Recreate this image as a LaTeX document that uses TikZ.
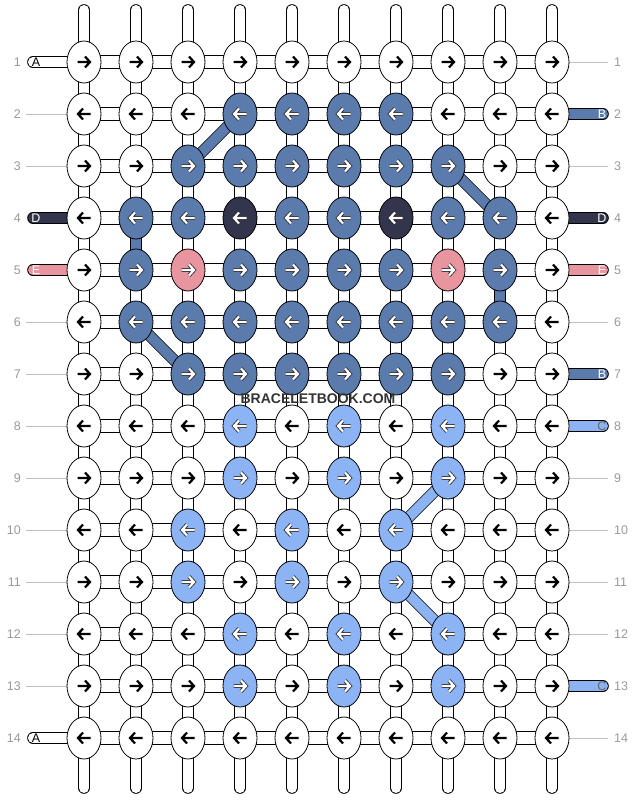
\documentclass[tikz,border=0pt]{standalone}
\usepackage{fontspec}
\setmainfont{Liberation Sans}
\usetikzlibrary{shapes.geometric}
% Farben der Knoten
\definecolor{kw}{RGB}{255,255,255}
\definecolor{kb}{RGB}{91,123,173}
\definecolor{kd}{RGB}{51,53,77}
\definecolor{kp}{RGB}{232,149,159}
\definecolor{kl}{RGB}{140,180,245}
% Pfeilfarben und Umrandung
\colorlet{akw}{black}\colorlet{akb}{white}\colorlet{akd}{white}\colorlet{akp}{white}\colorlet{akl}{white}
\colorlet{okw}{white}\colorlet{okb}{black!85}\colorlet{okd}{black!85}\colorlet{okp}{black!85}\colorlet{okl}{black!85}
\begin{document}
\begin{tikzpicture}[x=1pt,y=-1pt,
  knoten/.style={ellipse,draw=black,line width=0.8pt,minimum width=34pt,minimum height=42pt,inner sep=0pt},
  faden/.style={draw=black,line width=0.8pt,double=white,double distance=10pt},
  quer/.style={draw=black,line width=0.8pt,double=white,double distance=12pt},
  mitte/.style={draw=black!25,line width=0.5pt,double=white,double distance=1.6pt},
  ende/.style={draw=black,line width=0.8pt,line cap=round,double distance=10pt},
  zahl/.style={text=black!40,font=\fontsize{12.5}{14}\selectfont,inner sep=0pt},
  buchst/.style={font=\fontsize{12.5}{14}\selectfont,inner sep=0pt}]
  \useasboundingbox (0,0) rectangle (636,800);
  % Punkte
  \foreach \r in {1,...,14}
   \foreach \c in {1,...,10}
    \coordinate (p-\r-\c) at (32+52*\c,10+52*\r);
  \foreach \c in {1,...,10} {
   \coordinate (t-\c) at (32+52*\c,10);
   \coordinate (b-\c) at (32+52*\c,788);
  }
  % Senkrechte Faeden
  \foreach \c in {1,...,10} {
   \draw[faden,line cap=round] (t-\c) -- (b-\c);
   \draw[mitte] (t-\c) -- (b-\c);
  }
  % Waagrechte Faeden
  \foreach \r in {1,...,14}
   \draw[quer] (p-\r-1) -- (p-\r-10);
  % Beschriftung links und rechts
  \foreach \r [evaluate=\r as \y using 10+52*\r] in {1,...,14} {
   \node[zahl,anchor=east] (nl-\r) at (21,\y) {\r};
   \node[zahl,anchor=west] (nr-\r) at (614,\y) {\r};
   \coordinate (lg-\r) at (26,\y);
   \coordinate (rg-\r) at (608,\y);
   \coordinate (le-\r) at (33,\y);
   \coordinate (re-\r) at (603,\y);
  }
  \foreach \r in {2,3,6,7,8,9,10,11,12,13}
   \draw[black!25] (lg-\r) -- (p-\r-1);
  \foreach \r in {1,3,6,9,10,11,12,14}
   \draw[black!25] (p-\r-10) -- (rg-\r);
  % Enden links
  \foreach \r/\f/\t/\tf in {1/kw/A/black,4/kd/D/white,5/kp/E/white,14/kw/A/black} {
   \draw[ende,double=\f] (le-\r) -- (p-\r-1);
   \node[buchst,text=\tf] (bl-\r) at ([xshift=3pt]le-\r) {\t};
  }
  % Enden rechts
  \foreach \r/\f/\t/\tf in {2/kb/B/white,4/kd/D/white,5/kp/E/white,7/kb/B/white,8/kl/C/black!60,13/kl/C/black!60} {
   \draw[ende,double=\f] (p-\r-10) -- (re-\r);
   \node[buchst,text=\tf] (br-\r) at ([xshift=-1pt]re-\r) {\t};
  }
  % Farbige Faeden
  \foreach \a/\b/\f in {2-4/3-3/kb,3-8/4-9/kb,6-2/7-3/kb,4-2/5-2/kb,5-9/6-9/kb,9-8/10-7/kl,11-7/12-8/kl}
   \draw[faden,double=\f] (p-\a) -- (p-\b);
  % Knoten (Reihe/Richtung/Farben)
  \foreach \r/\s/\reihe in {
    1/1/{w,w,w,w,w,w,w,w,w,w},
    2/-1/{w,w,w,b,b,b,b,w,w,w},
    3/1/{w,w,b,b,b,b,b,b,w,w},
    4/-1/{w,b,b,d,b,b,d,b,b,w},
    5/1/{w,b,p,b,b,b,b,p,b,w},
    6/-1/{w,b,b,b,b,b,b,b,b,w},
    7/1/{w,w,b,b,b,b,b,b,w,w},
    8/-1/{w,w,w,l,w,l,w,l,w,w},
    9/1/{w,w,w,l,w,l,w,l,w,w},
    10/-1/{w,w,l,w,l,w,l,w,w,w},
    11/1/{w,w,l,w,l,w,l,w,w,w},
    12/-1/{w,w,w,l,w,l,w,l,w,w},
    13/1/{w,w,w,l,w,l,w,l,w,w},
    14/-1/{w,w,w,w,w,w,w,w,w,w}}
   \foreach \f [count=\i] in \reihe {
    \node[knoten,fill=k\f] (k-\r-\i) at (p-\r-\i) {};
    \draw[shift={(k-\r-\i)},xscale=\s,line width=3.8pt,ok\f] (-6.5,0) -- (6,0) (1,-5.5) -- (6,0) -- (1,5.5);
    \draw[shift={(k-\r-\i)},xscale=\s,line width=2.2pt,ak\f] (-6.5,0) -- (6,0) (1,-5.5) -- (6,0) -- (1,5.5);
   }
  % Schriftzug
  \node[font=\bfseries\fontsize{14}{14}\selectfont,text=black!80,inner sep=0pt] (marke) at (318,399) {BRACELETBOOK.COM};
\end{tikzpicture}
\end{document}
